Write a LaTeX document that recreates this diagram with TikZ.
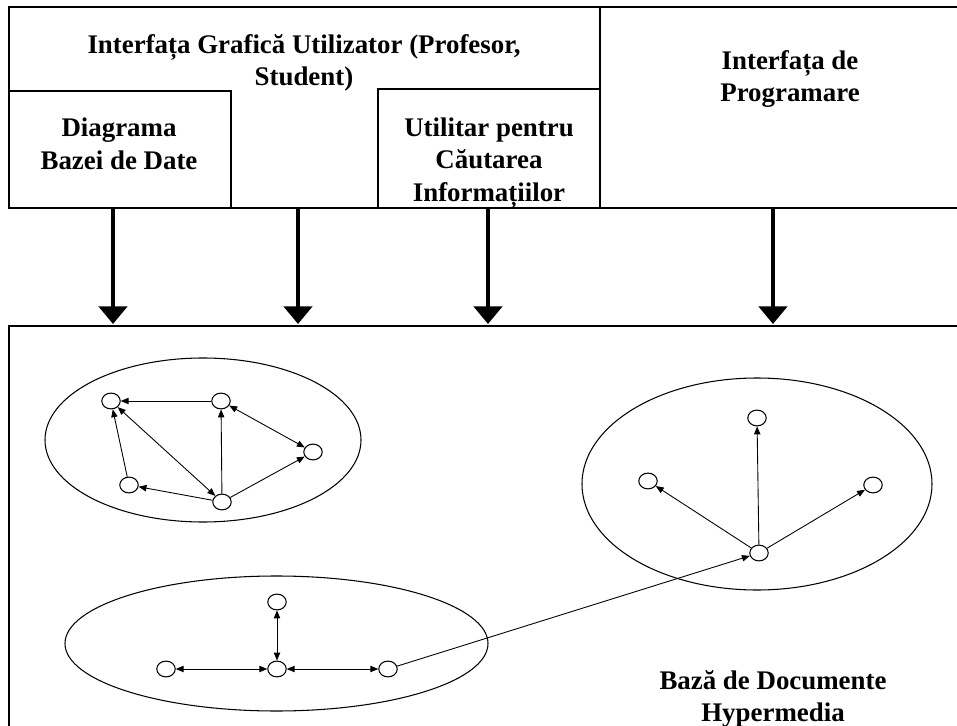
\documentclass[tikz,border=0pt]{standalone}
\usepackage{fontspec}
\setmainfont{Liberation Serif}
\usetikzlibrary{arrows.meta,shapes.geometric}

\begin{document}
\begin{tikzpicture}[x=0.02cm, y=-0.02cm, >={Triangle[length=4.5pt,width=3.6pt]},
		vertex/.style={draw, ellipse, inner sep=0pt, minimum width=10.5pt, minimum height=9pt, line width=0.6pt},
		boxtext/.style={align=center, font=\fontsize{15.3}{18.6}\selectfont\bfseries},
		feed/.style={line width=2.3pt, -{Triangle[width=16pt,length=10pt]}}]
		\useasboundingbox (0,0) rectangle (957,726);

		% upper frame
		\draw [line width=1.7pt](957,7) -- (9,7) -- (9,208) -- (957,208);
		\draw [line width=1.2pt](600,7) -- (600,208);
		\draw [line width=0.8pt](9,91) -- (231,91) -- (231,208);
		\draw [line width=0.8pt](600,89) -- (378,89) -- (378,208);

		\node (gui)[boxtext] at (304,63)   {Interfața Grafică Utilizator (Profesor,\\ Student)};
		\node (diag)[boxtext] at (119,144) {Diagrama\\ Bazei de Date};
		\node (util)[boxtext] at (489,163) {Utilitar pentru\\ Căutarea\\ Informațiilor};
		\node (api)[boxtext] at (790,79)   {Interfața de\\ Programare};

		% lower frame
		\draw [line width=1.7pt](957,326) -- (9,326) -- (9,726);
		\node (baza)[boxtext] at (773,699) {Bază de Documente\\ Hypermedia};

		\coordinate (s1) at (113,208);  \coordinate (t1) at (113,324);
		\coordinate (s2) at (298,208);  \coordinate (t2) at (298,324);
		\coordinate (s3) at (488,208);  \coordinate (t3) at (488,324);
		\coordinate (s4) at (773,207);  \coordinate (t4) at (773,324);
		\draw [feed](s1) -- (t1);
		\draw [feed](s2) -- (t2);
		\draw [feed](s3) -- (t3);
		\draw [feed](s4) -- (t4);

		% clusters
		\draw [line width=0.6pt](203,440) ellipse [x radius=158, y radius=82];
		\draw [line width=0.6pt](757,484) ellipse [x radius=175, y radius=106];
		\draw [line width=0.6pt](276.5,643.5) ellipse [x radius=211.5, y radius=67.5];

		\node (a1)[vertex] at (111,401) {};
		\node (b1)[vertex] at (221,401) {};
		\node (c1)[vertex] at (313,452) {};
		\node (d1)[vertex] at (129,485) {};
		\node (e1)[vertex] at (222,502) {};

		\node (a2)[vertex] at (757,418) {};
		\node (b2)[vertex] at (648,481) {};
		\node (c2)[vertex] at (873,485) {};
		\node (d2)[vertex] at (759,553) {};

		\node (a3)[vertex] at (277,602) {};
		\node (b3)[vertex] at (166,669) {};
		\node (c3)[vertex] at (277,669) {};
		\node (d3)[vertex] at (388,669) {};

		\draw [->, line width=0.5pt](b1)edge(a1)(d1)edge(a1)(e1)edge(b1)edge(c1)edge(d1);
		\draw [<->, line width=0.5pt](a1)edge(e1)(b1)edge(c1);

		\draw [->, line width=0.5pt](d2)edge(a2)edge(b2)edge(c2);

		\draw [<->, line width=0.5pt](c3)edge(a3)edge(b3)edge(d3);
		\draw [->, line width=0.5pt](d3) -- (d2);
	\end{tikzpicture}
\end{document}
